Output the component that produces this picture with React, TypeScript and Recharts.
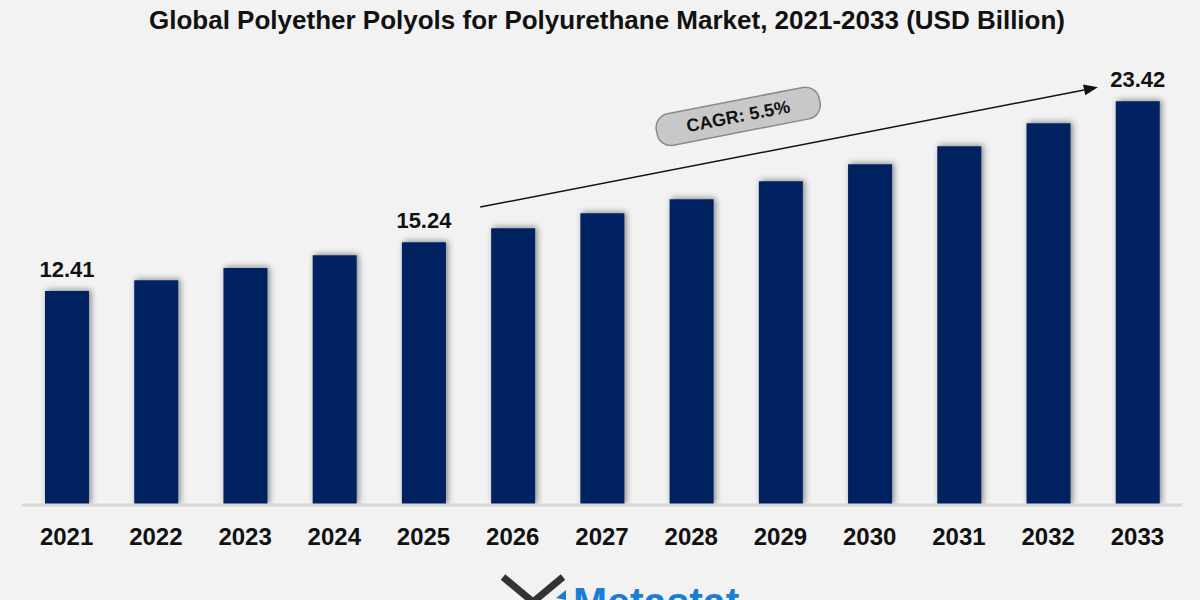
import React from 'react';
import { BarChart, Bar, XAxis, YAxis, ReferenceLine, LabelList } from 'recharts';

const years = ['2021', '2022', '2023', '2024', '2025', '2026', '2027', '2028', '2029', '2030', '2031', '2032', '2033'];
const marketValues = [12.41, 13.04, 13.74, 14.49, 15.24, 16.06, 16.93, 17.74, 18.78, 19.77, 20.81, 22.14, 23.42];
const labeledYears = ['2021', '2025', '2033'];
const cagrText = 'CAGR: 5.5%';
// annotation arrow in data units (x on a 0..12 helper axis spanning the plot, y in USD Billion)
const cagrStart = { x: 4.74, y: 17.28 };
const cagrEnd = { x: 11.13, y: 24.23 };
const titleText = 'Global Polyether Polyols for Polyurethane Market, 2021-2033 (USD Billion)';

const data = years.map((year, i) => ({ year, value: marketValues[i] }));

const FONT = '"Liberation Sans", Arial, sans-serif';

const ValueLabel = (props: any) => {
  const { x, y, width, value, index } = props;
  if (!labeledYears.includes(years[index])) return null;
  return (
    <text x={x + width / 2} y={y - 14} textAnchor="middle" fontFamily={FONT} fontWeight={700} fontSize={22} fill="#111">
      {value.toFixed(2)}
    </text>
  );
};

const CagrArrow = (props: any) => {
  const { x1, y1, x2, y2 } = props;
  const a = Math.atan2(y2 - y1, x2 - x1);
  const deg = (a * 180) / Math.PI;
  const hl = 14, hw = 5.5;
  const bx = x2 - hl * Math.cos(a), by = y2 - hl * Math.sin(a);
  const p1 = `${x2},${y2}`;
  const p2 = `${bx + hw * Math.sin(a)},${by - hw * Math.cos(a)}`;
  const p3 = `${bx - hw * Math.sin(a)},${by + hw * Math.cos(a)}`;
  const t = 0.43;
  const mx = x1 + (x2 - x1) * t, my = y1 + (y2 - y1) * t;
  const off = 40;
  const cx = mx + off * Math.sin(a), cy = my - off * Math.cos(a);
  const pw = 166, ph = 32;
  return (
    <g>
      <line x1={x1} y1={y1} x2={bx} y2={by} stroke="#111" strokeWidth={1.5} />
      <polygon points={`${p1} ${p2} ${p3}`} fill="#111" />
      <g transform={`translate(${cx},${cy}) rotate(${deg})`}>
        <rect x={-pw / 2} y={-ph / 2} width={pw} height={ph} rx={14} ry={14} fill="#c8c8c8" stroke="#8a8a8a" strokeWidth={1.5} />
        <text x={0} y={6} textAnchor="middle" fontFamily={FONT} fontWeight={700} fontSize={18} fill="#111">{cagrText}</text>
      </g>
    </g>
  );
};

export default function App() {
  return (
    <div style={{ position: 'absolute', left: 0, top: 0, width: 1200, height: 600, background: '#f2f2f2', overflow: 'hidden' }}>
      <div style={{ position: 'absolute', left: 7, top: 4, width: 1200, textAlign: 'center', fontFamily: FONT, fontWeight: 700, fontSize: 26, color: '#111', lineHeight: '32px' }}>
        {titleText}
      </div>
      <div style={{ position: 'absolute', left: 0, top: 0 }}>
        <BarChart width={1200} height={600} data={data} margin={{ top: 74, right: 18, left: 22, bottom: 65 }}>
          <defs>
            <filter id="barShadow" x="-30%" y="-10%" width="160%" height="120%">
              <feDropShadow dx={2} dy={-1} stdDeviation={3} floodColor="#000" floodOpacity={0.45} />
            </filter>
          </defs>
          <XAxis
            xAxisId="cat"
            dataKey="year"
            tickLine={false}
            tickSize={0}
            tickMargin={23}
            axisLine={{ stroke: '#d6d6d6', strokeWidth: 3 }}
            tick={{ fontFamily: FONT, fontWeight: 700, fontSize: 24, fill: '#111' }}
            interval={0}
          />
          <XAxis xAxisId="num" type="number" domain={[0, 12]} hide allowDataOverflow />
          <YAxis domain={[0, 25]} hide allowDataOverflow />
          <Bar xAxisId="cat" dataKey="value" fill="#002060" barSize={44} isAnimationActive={false} filter="url(#barShadow)">
            <LabelList dataKey="value" content={<ValueLabel />} />
          </Bar>
          <ReferenceLine xAxisId="num" segment={[cagrStart, cagrEnd]} shape={<CagrArrow />} ifOverflow="visible" />
        </BarChart>
      </div>
      <svg style={{ position: 'absolute', left: 0, top: 0 }} width={1200} height={600}>
        <path d="M503,577 L533,602 M563,577 L533,602" stroke="#333" strokeWidth={7} fill="none" />
        <polygon points="556,598 566,590 566,600" fill="#1a7fd4" />
        <text x={573} y={616} fontFamily={FONT} fontWeight={700} fontSize={41} fill="#1a7fd4">Metastat</text>
      </svg>
    </div>
  );
}
